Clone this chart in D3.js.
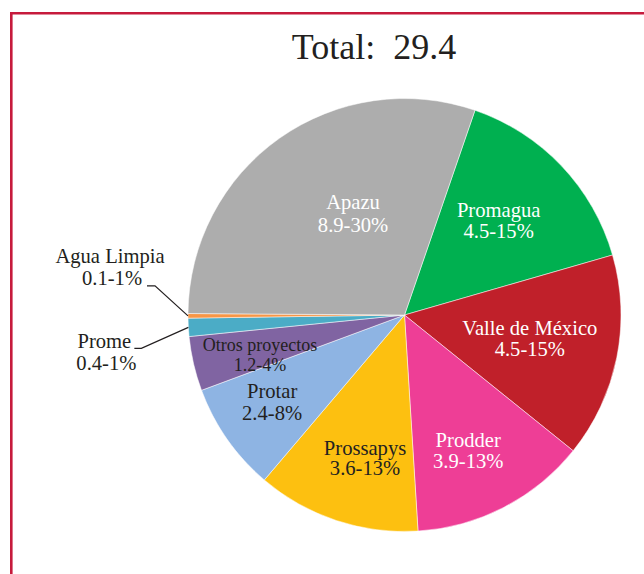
<!DOCTYPE html>
<html>
<head>
<meta charset="utf-8">
<script src="https://cdn.jsdelivr.net/npm/d3@7"></script>
<style>
  body { margin: 0; background: #fff; }
  text { font-family: "Liberation Serif", "DejaVu Serif", serif; }
</style>
</head>
<body>
<div id="graf"></div>
<script>
// Datos (miles de millones)
proyectos   = ['Promagua', 'Valle de México', 'Prodder', 'Prossapys', 'Protar', 'Otros proyectos', 'Prome', 'Agua Limpia', 'Apazu']
montos      = [4.5, 4.5, 3.9, 3.6, 2.4, 1.2, 0.4, 0.1, 8.9]
porcentajes = ['15%', '15%', '13%', '13%', '8%', '4%', '1%', '1%', '30%']
colores     = ['#00b050', '#c0202a', '#ee3e96', '#fdc010', '#8eb4e3', '#8064a2', '#4bacc6', '#f79646', '#adadad']
textoBlanco = ['Promagua', 'Valle de México', 'Prodder', 'Apazu']
externos    = ['Prome', 'Agua Limpia']
total       = '29.4'

ancho_total = 644
alto_total  = 574
centro = { x: 404.5, y: 315 }
radio  = 216.5
oscuro = '#231f20'

svg = d3.select('#graf').append('svg')
        .attr('width', ancho_total)
        .attr('height', alto_total)

// Marco rojo (solo lados izquierdo y superior visibles)
svg.append('path')
   .attr('d', `M11.3,${alto_total} V13.3 H${ancho_total}`)
   .attr('fill', 'none')
   .attr('stroke', '#c61a3c')
   .attr('stroke-width', 2.6)

// Titulo
svg.append('text')
   .attr('x', 374)
   .attr('y', 59)
   .attr('text-anchor', 'middle')
   .style('font-size', '36px')
   .style('white-space', 'pre')
   .attr('fill', oscuro)
   .text(`Total:  ${total}`)

datos = proyectos.map((p, i) => ({ nombre: p, valor: montos[i], pct: porcentajes[i], color: colores[i] }))

inicio = 19 * Math.PI / 180
pie = d3.pie().sort(null).value(d => d.valor)
         .startAngle(inicio).endAngle(inicio + 2 * Math.PI)
arcos = pie(datos)

arco = d3.arc().innerRadius(0).outerRadius(radio)
arcoEtiqueta = d3.arc().innerRadius(radio * 0.6).outerRadius(radio * 0.6)
arcoBorde = d3.arc().innerRadius(radio).outerRadius(radio)

g = svg.append('g').attr('transform', `translate(${centro.x}, ${centro.y})`)

g.selectAll('path.rebanada').data(arcos)
 .enter().append('path')
 .attr('class', 'rebanada')
 .attr('d', arco)
 .attr('fill', d => d.data.color)
 .attr('stroke', '#fff')
 .attr('stroke-width', 0.5)

// Ajustes de posicion de etiquetas internas (desde el centroide)
ajustes = {
  'Apazu':           { dx: 23.6, dy: 11.6, size: 20.6, gap: 22.4 },
  'Promagua':        { dx: 0,    dy: 1.5,  size: 20.6, gap: 21 },
  'Valle de México': { dx: -2,   dy: 5,    size: 20.6, gap: 21 },
  'Prodder':         { dx: 4,    dy: 26.8, size: 20.6, gap: 21.3 },
  'Prossapys':       { dx: 1.5,  dy: 26.8, size: 20.6, gap: 20.7 },
  'Protar':          { dx: -26,  dy: 19.4, size: 20.6, gap: 22 },
  'Otros proyectos': { dx: -18,  dy: 16.5, size: 18,   gap: 19.7 }
}

internos = arcos.filter(d => !externos.includes(d.data.nombre))
internos.forEach(d => {
  a = ajustes[d.data.nombre]
  c = arcoEtiqueta.centroid(d)
  t = g.append('text')
       .attr('text-anchor', 'middle')
       .style('font-size', a.size + 'px')
       .attr('fill', textoBlanco.includes(d.data.nombre) ? '#fff' : oscuro)
  t.append('tspan').attr('x', c[0] + a.dx).attr('y', c[1] + a.dy - a.gap / 2).text(d.data.nombre)
  t.append('tspan').attr('x', c[0] + a.dx).attr('y', c[1] + a.dy + a.gap / 2).text(`${d.data.valor.toFixed(1)}-${d.data.pct}`)
})

// Etiquetas externas con lineas guia
guias = {
  'Agua Limpia': { codo: [-33, -30], fin: -8, tx: -78, ty1: -53, ty2: -31 },
  'Prome':       { codo: [-47, 21],  fin: -7, tx: -84, ty1: 21,  ty2: 43 }
}
arcos.filter(d => externos.includes(d.data.nombre)).forEach(d => {
  gd = guias[d.data.nombre]
  p = arcoBorde.centroid(d)
  codo = [p[0] + gd.codo[0], p[1] + gd.codo[1]]
  g.append('polyline')
   .attr('points', [p, codo, [codo[0] + gd.fin, codo[1]]].map(q => q.join(',')).join(' '))
   .attr('fill', 'none')
   .attr('stroke', oscuro)
   .attr('stroke-width', 1.2)
  t = g.append('text')
       .attr('text-anchor', 'middle')
       .style('font-size', '20.6px')
       .attr('fill', oscuro)
  t.append('tspan').attr('x', p[0] + gd.tx).attr('y', p[1] + gd.ty1).text(d.data.nombre)
  t.append('tspan').attr('x', p[0] + gd.tx + 2).attr('y', p[1] + gd.ty2).text(`${d.data.valor.toFixed(1)}-${d.data.pct}`)
})
</script>
</body>
</html>
